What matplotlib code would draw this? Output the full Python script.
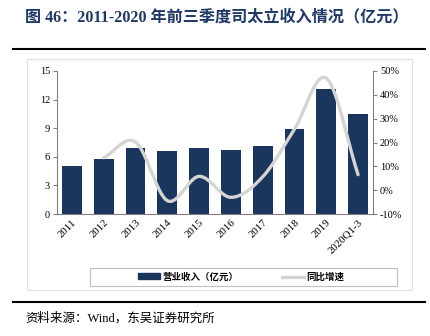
import numpy as np
import matplotlib
matplotlib.use("Agg")
import matplotlib.pyplot as plt
from matplotlib.lines import Line2D
from matplotlib.patches import Rectangle, Patch

plt.rcParams['font.family'] = ['Liberation Serif', 'Noto Sans CJK SC']

years = ['2011', '2012', '2013', '2014', '2015', '2016', '2017', '2018', '2019', '2020Q1-3']
revenue = [5.05, 5.74, 6.9, 6.6, 6.95, 6.75, 7.12, 8.93, 13.1, 10.5]   # 亿元
growth = [13.6, 20.2, -4.4, 5.8, -3.0, 5.6, 25.6, 47.0, 6.5]            # %, 2012 onward

navy = '#1b365d'
grey_line = '#d4d4d4'


def catmull_rom(x, y, n=20):
    # smooth curve through the points, like Excel's smoothed line
    x = np.asarray(x, float)
    y = np.asarray(y, float)
    px = np.concatenate([[2 * x[0] - x[1]], x, [2 * x[-1] - x[-2]]])
    py = np.concatenate([[2 * y[0] - y[1]], y, [2 * y[-1] - y[-2]]])
    xs, ys = [], []
    t = np.linspace(0, 1, n, endpoint=False)
    for i in range(1, len(px) - 2):
        for p, out in ((px, xs), (py, ys)):
            p0, p1, p2, p3 = p[i - 1], p[i], p[i + 1], p[i + 2]
            out.extend(0.5 * (2 * p1 + (-p0 + p2) * t
                              + (2 * p0 - 5 * p1 + 4 * p2 - p3) * t ** 2
                              + (-p0 + 3 * p1 - 3 * p2 + p3) * t ** 3))
    xs.append(x[-1])
    ys.append(y[-1])
    return np.array(xs), np.array(ys)


fig = plt.figure(figsize=(4.3, 3.36), dpi=100)

# title and rules
fig.text(25 / 430, 1 - 17 / 336, '图 46：2011-2020 年前三季度司太立收入情况（亿元）',
         fontsize=11.6, fontweight='bold', color='#1f3864', va='center', ha='left')
fig.add_artist(Line2D([13 / 430, 425 / 430], [1 - 49 / 336, 1 - 49 / 336], color='black', lw=1.5))
fig.add_artist(Line2D([13 / 430, 425 / 430], [1 - 302 / 336, 1 - 302 / 336], color='black', lw=1.5))
fig.add_artist(Rectangle((27 / 430, 1 - 290 / 336), 385 / 430, 231 / 336, transform=fig.transFigure,
                         fill=False, edgecolor='#e0e0e0', lw=0.8))
# legend box
fig.add_artist(Rectangle((90 / 430, 1 - 286 / 336), 307 / 430, 18 / 336, transform=fig.transFigure,
                         fill=False, edgecolor='#bfbfbf', lw=0.8))
fig.text(25 / 430, 1 - 318 / 336, '资料来源：Wind，东吴证券研究所', fontsize=9, va='center', ha='left')

ax = fig.add_axes([57 / 430, 1 - 214 / 336, 316 / 430, 143 / 336])
x = np.arange(len(years))
ax.bar(x, revenue, width=0.62, color=navy, zorder=2)
ax.set_xlim(-0.47, len(years) - 1 + 0.47)
ax.set_ylim(0, 15)
ax.set_yticks([0, 3, 6, 9, 12, 15])
ax.set_xticks(x)
ax.set_xticklabels(years, rotation=45, ha='right', rotation_mode='anchor')

ax2 = ax.twinx()
sx, sy = catmull_rom(x[1:], growth)
ax2.plot(sx, sy, color=grey_line, lw=2.4, solid_capstyle='round', zorder=3)
ax2.set_ylim(-10, 50)
ax2.set_yticks(np.arange(-10, 51, 10))
ax2.set_yticklabels(['%d%%' % v for v in range(-10, 51, 10)])

for a in (ax, ax2):
    for s in a.spines.values():
        s.set_visible(False)
    a.tick_params(labelsize=7.5, color='#808080', length=3, width=0.8, pad=2)
ax.spines['left'].set_visible(True)
ax.spines['bottom'].set_visible(True)
ax2.spines['right'].set_visible(True)
for s in (ax.spines['left'], ax.spines['bottom'], ax2.spines['right']):
    s.set_color('#808080')
    s.set_linewidth(0.8)
ax.tick_params(axis='x', length=0, pad=3, labelsize=7.8)

handles = [Patch(facecolor=navy, edgecolor=navy),
           Line2D([], [], color=grey_line, lw=2.4)]
leg = fig.legend(handles, ['营业收入（亿元）', '同比增速'], loc='center', ncol=2,
                 bbox_to_anchor=(241 / 430, 1 - 277 / 336), frameon=False,
                 prop={'weight': 'bold', 'size': 6.8}, handlelength=2.4,
                 handleheight=0.6, columnspacing=4.6, handletextpad=0.2,
                 borderpad=0.3)

fig.savefig('out.png', dpi=100)
